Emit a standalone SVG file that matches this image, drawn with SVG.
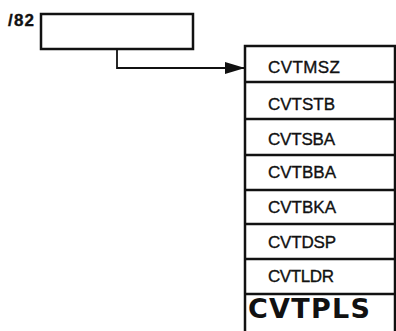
<svg xmlns="http://www.w3.org/2000/svg" width="396" height="331" viewBox="0 0 396 331">
<style>
.box{fill:#fff;stroke:#111;stroke-width:2.5}
.ln{stroke:#111;stroke-width:2.5;fill:none}
.cn{stroke:#111;stroke-width:1.8;fill:none}
.t{font-family:"Liberation Sans",Arial,sans-serif;font-size:17px;fill:#111;stroke:#111;stroke-width:0.35}
.h{font-family:"DejaVu Sans","Liberation Sans",sans-serif;font-size:27px;font-weight:bold;fill:#111}
</style>
<defs>
<marker id="ah" markerWidth="20" markerHeight="12" refX="20" refY="6" orient="auto" markerUnits="userSpaceOnUse">
<path d="M0,0 L20,6 L0,12 Z" fill="#111"/>
</marker>
</defs>
<rect width="396" height="331" fill="#fff"/>
<g id="source">
<text class="t" x="8" y="26" textLength="26" font-weight="bold" stroke-width="0">/82</text>
<rect class="box" x="41" y="14" width="152" height="35"/>
</g>
<g id="connectors">
<path class="cn" d="M117,49 V68 H245" marker-end="url(#ah)"/>
</g>
<g id="table">
<rect class="box" x="245" y="46" width="150" height="295"/>
<g class="ln">
<line x1="245" y1="82" x2="395" y2="82"/>
<line x1="245" y1="119" x2="395" y2="119"/>
<line x1="245" y1="155" x2="395" y2="155"/>
<line x1="245" y1="190" x2="395" y2="190"/>
<line x1="245" y1="224" x2="395" y2="224"/>
<line x1="245" y1="259" x2="395" y2="259"/>
<line x1="245" y1="294" x2="395" y2="294"/>
</g>
<g id="r1"><text class="t" x="268" y="73" textLength="72">CVTMSZ</text></g>
<g id="r2"><text class="t" x="268" y="110" textLength="67">CVTSTB</text></g>
<g id="r3"><text class="t" x="268" y="145" textLength="67">CVTSBA</text></g>
<g id="r4"><text class="t" x="268" y="178" textLength="68">CVTBBA</text></g>
<g id="r5"><text class="t" x="268" y="213" textLength="68">CVTBKA</text></g>
<g id="r6"><text class="t" x="268" y="248" textLength="68">CVTDSP</text></g>
<g id="r7"><text class="t" x="268" y="282" textLength="66">CVTLDR</text></g>
<g id="r8"><text class="h" x="248" y="318" textLength="122">CVTPLS</text></g>
</g>
</svg>
